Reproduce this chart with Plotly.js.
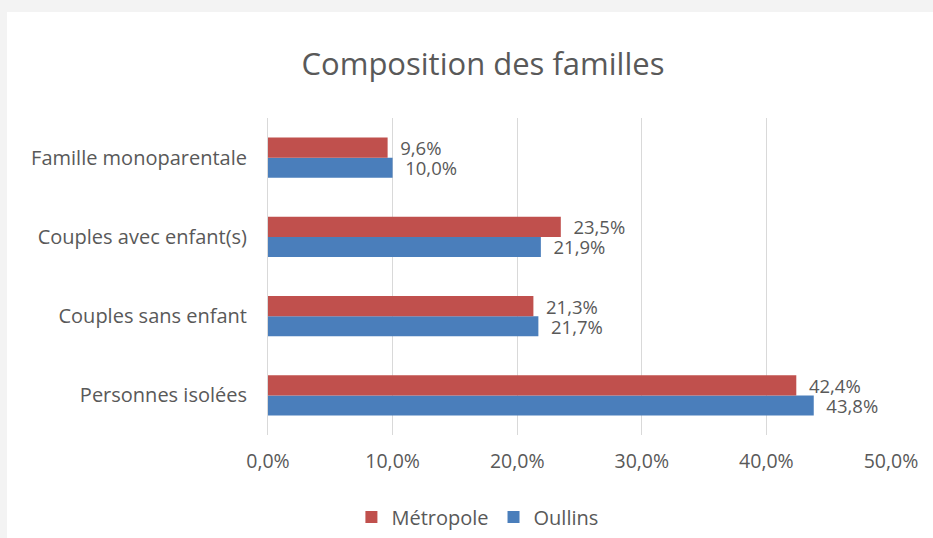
<!DOCTYPE html>
<html>
<head>
<meta charset="utf-8">
<script src="https://cdn.plot.ly/plotly-3.0.1.min.js"></script>
<style>
  html, body { margin: 0; padding: 0; background: #f3f3f3; width: 933px; height: 538px; overflow: hidden; }
  #chart { position: absolute; left: 7px; top: 12px; width: 926px; height: 526px; background: #ffffff; }
</style>
</head>
<body>
<div id="chart"></div>
<script>
const categories = ["Personnes isolées", "Couples sans enfant", "Couples avec enfant(s)", "Famille monoparentale"];
const metropole = [0.424, 0.213, 0.235, 0.096];
const oullins = [0.438, 0.217, 0.219, 0.100];
const xTicks = [0, 0.1, 0.2, 0.3, 0.4, 0.5];

const FONT = "'Open Sans', 'Noto Sans', sans-serif";
const textFont = { family: FONT, size: 18.5, color: "#595959" };

const traces = [
  {
    type: "bar", orientation: "h", name: "Oullins",
    y: categories, x: oullins,
    marker: { color: "#4a7ebb" },
    texttemplate: "\u00a0\u00a0%{x:.1%}", textposition: "outside",
    constraintext: "none",
    textfont: textFont, cliponaxis: false, hoverinfo: "skip"
  },
  {
    type: "bar", orientation: "h", name: "Métropole",
    y: categories, x: metropole,
    marker: { color: "#c0504d" },
    texttemplate: "\u00a0\u00a0%{x:.1%}", textposition: "outside",
    constraintext: "none",
    textfont: textFont, cliponaxis: false, hoverinfo: "skip"
  }
];

const layout = {
  width: 926, height: 526,
  paper_bgcolor: "#ffffff", plot_bgcolor: "#ffffff",
  separators: ", ",
  font: { family: FONT, color: "#595959" },
  margin: { l: 261, r: 42, t: 106, b: 103 },
  barmode: "group", bargap: 0.49, bargroupgap: 0,
  title: {
    text: "Composition des familles",
    font: { size: 31, color: "#595959", family: FONT },
    x: 0.514, xanchor: "center", xref: "container",
    y: 0.9, yanchor: "middle", yref: "container"
  },
  xaxis: {
    range: [0, 0.5], tickvals: xTicks, tickformat: ".1%",
    showgrid: true, gridcolor: "#d9d9d9", gridwidth: 1,
    zeroline: false, showline: false,
    tickfont: { size: 19.5, color: "#595959" },
    ticklabelstandoff: 12, fixedrange: true
  },
  yaxis: {
    type: "category", categoryorder: "array", categoryarray: categories,
    showgrid: false, zeroline: false,
    showline: true, linecolor: "#d9d9d9", linewidth: 1,
    tickfont: { size: 20, color: "#595959" },
    ticklabelstandoff: 16, fixedrange: true
  },
  showlegend: true,
  legend: {
    orientation: "h", traceorder: "reversed",
    xref: "container", x: 0.508, xanchor: "center",
    yref: "container", y: 0.04, yanchor: "middle",
    font: { size: 20, color: "#595959" }
  }
};

Plotly.newPlot("chart", traces, layout, { displayModeBar: false, staticPlot: true });
</script>
</body>
</html>
